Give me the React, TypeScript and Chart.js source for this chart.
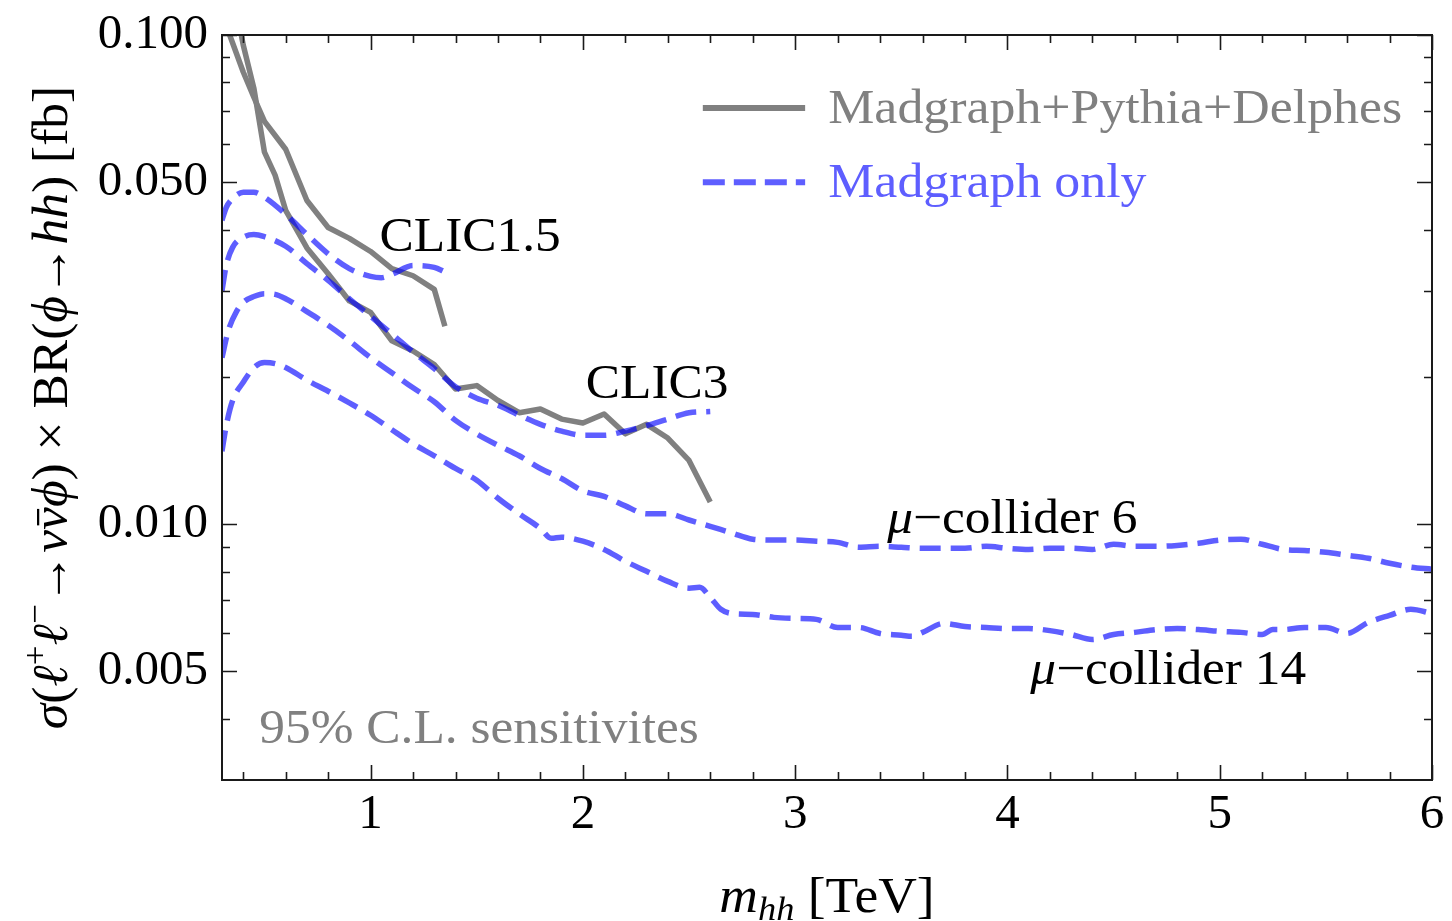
import React, { useEffect, useRef } from "react";
import { Chart, registerables } from "chart.js";

Chart.register(...registerables);

// ---- Sensitivity curves: m_hh [TeV] vs sigma x BR [fb] ----

// CLIC 1.5 TeV, Madgraph+Pythia+Delphes
const clic15FullMass = [0.3, 0.35, 0.4, 0.45, 0.5, 0.6, 0.7, 0.8, 0.9, 1.0, 1.1, 1.2, 1.3, 1.35];
const clic15FullSigma = [0.1104, 0.0963, 0.084, 0.0746, 0.0666, 0.0584, 0.0459, 0.0404, 0.0384, 0.0361, 0.0333, 0.0322, 0.0302, 0.0254];

// CLIC 3 TeV, Madgraph+Pythia+Delphes
const clic3FullMass = [0.35, 0.4, 0.45, 0.5, 0.55, 0.6, 0.7, 0.8, 0.9, 1.0, 1.1, 1.2, 1.3, 1.4, 1.5, 1.6, 1.7, 1.8, 1.9, 2.0, 2.1, 2.2, 2.3, 2.4, 2.5, 2.6];
const clic3FullSigma = [0.1236, 0.0954, 0.0779, 0.0576, 0.0517, 0.0438, 0.0367, 0.0325, 0.0286, 0.0271, 0.0237, 0.0226, 0.0212, 0.0189, 0.0192, 0.0179, 0.0169, 0.0172, 0.0164, 0.0161, 0.0168, 0.0153, 0.016, 0.015, 0.0135, 0.0111];

// CLIC 1.5 TeV, Madgraph only
const clic15MgMass = [0.3, 0.32, 0.35, 0.4, 0.45, 0.5, 0.6, 0.7, 0.8, 0.9, 1.0, 1.05, 1.1, 1.2, 1.3, 1.35];
const clic15MgSigma = [0.0418, 0.0444, 0.0463, 0.0477, 0.0477, 0.0466, 0.043, 0.0391, 0.0357, 0.0333, 0.0321, 0.0319, 0.0324, 0.0338, 0.0335, 0.0328];

// CLIC 3 TeV, Madgraph only
const clic3MgMass = [0.3, 0.32, 0.35, 0.4, 0.45, 0.5, 0.6, 0.7, 0.8, 0.9, 1.0, 1.1, 1.2, 1.3, 1.4, 1.5, 1.6, 1.7, 1.8, 1.9, 2.0, 2.1, 2.2, 2.3, 2.4, 2.5, 2.6];
const clic3MgSigma = [0.03, 0.0338, 0.0368, 0.0386, 0.0391, 0.0387, 0.037, 0.0341, 0.0315, 0.0289, 0.0266, 0.0245, 0.0225, 0.0208, 0.0191, 0.0181, 0.0175, 0.0167, 0.016, 0.0155, 0.0152, 0.0152, 0.0155, 0.0159, 0.0164, 0.0169, 0.017];

// Muon collider 6 TeV, Madgraph only
const mu6Mass = [0.3, 0.33, 0.37, 0.4, 0.45, 0.5, 0.55, 0.6, 0.7, 0.8, 0.9, 1.0, 1.1, 1.2, 1.3, 1.4, 1.5, 1.6, 1.7, 1.8, 1.9, 2.0, 2.1, 2.2, 2.3, 2.4, 2.5, 2.6, 2.7, 2.8, 2.9, 3.0, 3.1, 3.2, 3.3, 3.4, 3.5, 3.6, 3.7, 3.8, 3.9, 4.0, 4.1, 4.2, 4.3, 4.4, 4.5, 4.6, 4.7, 4.8, 4.9, 5.0, 5.1, 5.2, 5.3, 5.4, 5.5, 5.6, 5.7, 5.8, 5.9, 6.0];
const mu6Sigma = [0.0219, 0.0249, 0.0273, 0.0284, 0.0292, 0.0296, 0.0295, 0.0289, 0.0272, 0.0255, 0.0237, 0.0219, 0.0204, 0.019, 0.0178, 0.0163, 0.0153, 0.0145, 0.0138, 0.013, 0.0124, 0.0117, 0.0114, 0.0109, 0.0105, 0.0105, 0.0102, 0.0099, 0.0096, 0.00932, 0.00928, 0.00928, 0.00923, 0.00918, 0.00897, 0.00901, 0.00897, 0.00893, 0.00893, 0.00893, 0.00901, 0.00893, 0.00888, 0.00893, 0.00893, 0.00888, 0.0091, 0.00901, 0.00901, 0.00905, 0.00914, 0.00928, 0.00932, 0.0091, 0.00888, 0.00884, 0.00876, 0.00864, 0.00852, 0.00832, 0.00817, 0.00809];

// Muon collider 14 TeV, Madgraph only
const mu14Mass = [0.3, 0.32, 0.35, 0.4, 0.45, 0.5, 0.55, 0.6, 0.7, 0.8, 0.9, 1.0, 1.1, 1.2, 1.3, 1.4, 1.5, 1.6, 1.7, 1.8, 1.85, 1.9, 2.0, 2.1, 2.2, 2.3, 2.4, 2.5, 2.55, 2.6, 2.65, 2.7, 2.8, 2.9, 3.0, 3.1, 3.2, 3.3, 3.4, 3.5, 3.55, 3.6, 3.7, 3.8, 3.9, 4.0, 4.1, 4.2, 4.3, 4.4, 4.5, 4.6, 4.7, 4.8, 4.9, 5.0, 5.1, 5.2, 5.25, 5.3, 5.4, 5.5, 5.6, 5.7, 5.8, 5.9, 6.0];
const mu14Sigma = [0.0141, 0.0159, 0.0179, 0.0195, 0.0209, 0.0214, 0.0213, 0.0209, 0.0197, 0.0187, 0.0177, 0.0167, 0.0156, 0.0146, 0.0138, 0.013, 0.0123, 0.0113, 0.0105, 0.0098, 0.00936, 0.00941, 0.00923, 0.00888, 0.0084, 0.00801, 0.00764, 0.0074, 0.00743, 0.00709, 0.0067, 0.00657, 0.00654, 0.00645, 0.00642, 0.00639, 0.00615, 0.00615, 0.00598, 0.00593, 0.0059, 0.00601, 0.00627, 0.00618, 0.00615, 0.00612, 0.00612, 0.00606, 0.00595, 0.00581, 0.00595, 0.00601, 0.00609, 0.00612, 0.00609, 0.00604, 0.00601, 0.00595, 0.00609, 0.00609, 0.00615, 0.00615, 0.00598, 0.0063, 0.00651, 0.0067, 0.00657];

// Axis ticks
const xTickLabels = [1, 2, 3, 4, 5, 6];
const xMinorTicks = [0.4, 0.6, 0.8, 1.2, 1.4, 1.6, 1.8, 2.2, 2.4, 2.6, 2.8, 3.2, 3.4, 3.6, 3.8, 4.2, 4.4, 4.6, 4.8, 5.2, 5.4, 5.6, 5.8];
const yTickLabels = [0.005, 0.01, 0.05, 0.1];
const yMinorTicks = [0.004, 0.006, 0.007, 0.008, 0.009, 0.02, 0.03, 0.04, 0.06, 0.07, 0.08, 0.09];

// ---- Styling ----
const SERIF = '"Liberation Serif", "Times New Roman", "DejaVu Serif", serif';
const GREY = "#808080";
const BLUE = "rgba(0, 0, 255, 0.63)";
const BLUE_TEXT = "#5e5eff";
const FRAME = "#1a1a1a";
const DASH = [21, 10];
const TEXT_SIZE = 48;
const TEXT_STRETCH = 1.07;

type Piece = { text: string; italic?: boolean; shift?: "sup" | "sub"; bar?: boolean };

function pieceFont(p: Piece, size: number) {
  const s = p.shift ? Math.round(size * 0.68) : size;
  return `${p.italic ? "italic " : ""}${s}px ${SERIF}`;
}

function richWidth(ctx: CanvasRenderingContext2D, pieces: Piece[], size: number, stretch = 1) {
  let w = 0;
  for (const p of pieces) {
    ctx.font = pieceFont(p, size);
    w += ctx.measureText(p.text).width;
  }
  return w * stretch;
}

// Draws a run of mixed upright/italic/sub/superscript pieces with its left end at (x, y) on the baseline.
function drawRich(ctx: CanvasRenderingContext2D, pieces: Piece[], size: number, x: number, y: number, stretch = 1) {
  ctx.save();
  ctx.translate(x, y);
  ctx.scale(stretch, 1);
  ctx.textAlign = "left";
  ctx.textBaseline = "alphabetic";
  let cx = 0;
  for (const p of pieces) {
    ctx.font = pieceFont(p, size);
    const dy = p.shift === "sup" ? -0.42 * size : p.shift === "sub" ? 0.16 * size : 0;
    ctx.fillText(p.text, cx, dy);
    const w = ctx.measureText(p.text).width;
    if (p.bar) ctx.fillRect(cx + w * 0.2, -size * 0.6, w * 0.72, Math.max(2, size * 0.045));
    cx += w;
  }
  ctx.restore();
}

const yTitle: Piece[] = [
  { text: "σ", italic: true },
  { text: "(" },
  { text: "ℓ", italic: true },
  { text: "+", shift: "sup" },
  { text: "ℓ", italic: true },
  { text: "−", shift: "sup" },
  { text: "→" },
  { text: "ν", italic: true },
  { text: "ν", italic: true, bar: true },
  { text: "ϕ", italic: true },
  { text: ") × BR(" },
  { text: "ϕ", italic: true },
  { text: "→" },
  { text: "hh", italic: true },
  { text: ") [fb]" },
];

const xTitle: Piece[] = [
  { text: "m", italic: true },
  { text: "hh", italic: true, shift: "sub" },
  { text: " [TeV]" },
];

// Curve labels, anchored in data coordinates (left edge, baseline)
const curveLabels: { pieces: Piece[]; mass: number; sigma: number; color: string }[] = [
  { pieces: [{ text: "CLIC1.5" }], mass: 1.042, sigma: 0.0362, color: "#000" },
  { pieces: [{ text: "CLIC3" }], mass: 2.014, sigma: 0.0181, color: "#000" },
  { pieces: [{ text: "μ", italic: true }, { text: "−collider 6" }], mass: 3.434, sigma: 0.00958, color: "#000" },
  { pieces: [{ text: "μ", italic: true }, { text: "−collider 14" }], mass: 4.108, sigma: 0.00472, color: "#000" },
  { pieces: [{ text: "95% C.L. sensitivites" }], mass: 0.476, sigma: 0.00357, color: GREY },
];

// Legend, anchored in data coordinates
const legendRows = [
  { label: "Madgraph+Pythia+Delphes", sigma: 0.0709, color: GREY, text: GREY, dashed: false },
  { label: "Madgraph only", sigma: 0.05, color: BLUE, text: BLUE_TEXT, dashed: true },
];
const legendLineFrom = 2.565;
const legendLineTo = 3.047;
const legendTextAt = 3.156;

const toPoints = (xs: number[], ys: number[]) => xs.map((x, i) => ({ x, y: ys[i] }));

const overlayPlugin = {
  id: "overlay",
  afterDatasetsDraw(chart: any) {
    const { ctx, chartArea: a, scales } = chart;
    const xs = scales.x;
    const ys = scales.y;
    ctx.save();
    ctx.strokeStyle = FRAME;
    ctx.lineWidth = 1.6;
    ctx.beginPath();
    const xTick = (v: number, len: number) => {
      const px = Math.round(xs.getPixelForValue(v)) + 0.5;
      ctx.moveTo(px, a.bottom);
      ctx.lineTo(px, a.bottom - len);
      ctx.moveTo(px, a.top);
      ctx.lineTo(px, a.top + len);
    };
    const yTick = (v: number, len: number) => {
      const py = Math.round(ys.getPixelForValue(v)) + 0.5;
      ctx.moveTo(a.left, py);
      ctx.lineTo(a.left + len, py);
      ctx.moveTo(a.right, py);
      ctx.lineTo(a.right - len, py);
    };
    xMinorTicks.forEach((v) => xTick(v, 8));
    xTickLabels.forEach((v) => xTick(v, 15));
    yMinorTicks.forEach((v) => yTick(v, 8));
    yTickLabels.forEach((v) => yTick(v, 15));
    ctx.stroke();
    ctx.lineWidth = 2;
    ctx.strokeRect(a.left, a.top, a.right - a.left, a.bottom - a.top);
    ctx.restore();
  },
  afterDraw(chart: any) {
    const { ctx, chartArea: a, scales } = chart;
    const xs = scales.x;
    const ys = scales.y;
    ctx.save();

    // legend
    legendRows.forEach((row) => {
      const y = ys.getPixelForValue(row.sigma);
      ctx.strokeStyle = row.color;
      ctx.lineWidth = 6;
      ctx.lineCap = "butt";
      ctx.setLineDash(row.dashed ? [22, 9] : []);
      ctx.beginPath();
      ctx.moveTo(xs.getPixelForValue(legendLineFrom), y);
      ctx.lineTo(xs.getPixelForValue(legendLineTo), y);
      ctx.stroke();
      ctx.setLineDash([]);
      ctx.fillStyle = row.text;
      drawRich(ctx, [{ text: row.label }], TEXT_SIZE, xs.getPixelForValue(legendTextAt), y + 15, 1.08);
    });

    // curve labels
    curveLabels.forEach((lab) => {
      ctx.fillStyle = lab.color;
      drawRich(ctx, lab.pieces, TEXT_SIZE, xs.getPixelForValue(lab.mass), ys.getPixelForValue(lab.sigma), TEXT_STRETCH);
    });

    // x-axis title
    ctx.fillStyle = "#000";
    const xw = richWidth(ctx, xTitle, 50, TEXT_STRETCH);
    drawRich(ctx, xTitle, 50, (a.left + a.right) / 2 - xw / 2, a.bottom + 132, TEXT_STRETCH);

    // y-axis title, rotated
    const yw = richWidth(ctx, yTitle, 50, 1.03);
    ctx.translate(a.left - 155, (a.top + a.bottom) / 2);
    ctx.rotate(-Math.PI / 2);
    drawRich(ctx, yTitle, 50, -yw / 2, 0, 1.03);
    ctx.restore();
  },
};

export default function App() {
  const canvasRef = useRef<HTMLCanvasElement>(null);

  useEffect(() => {
    const canvas = canvasRef.current;
    if (!canvas) return;
    const blue = (data: { x: number; y: number }[]) => ({
      data,
      borderColor: BLUE,
      borderWidth: 5.5,
      borderDash: DASH,
      borderCapStyle: "butt" as const,
      pointRadius: 0,
      tension: 0,
      cubicInterpolationMode: "monotone" as const,
      fill: false,
    });
    const grey = (data: { x: number; y: number }[]) => ({
      data,
      borderColor: GREY,
      borderWidth: 5.5,
      borderJoinStyle: "round" as const,
      pointRadius: 0,
      tension: 0,
      fill: false,
    });

    const chart = new Chart(canvas, {
      type: "line",
      data: {
        datasets: [
          blue(toPoints(clic15MgMass, clic15MgSigma)),
          blue(toPoints(clic3MgMass, clic3MgSigma)),
          blue(toPoints(mu6Mass, mu6Sigma)),
          blue(toPoints(mu14Mass, mu14Sigma)),
          grey(toPoints(clic15FullMass, clic15FullSigma)),
          grey(toPoints(clic3FullMass, clic3FullSigma)),
        ],
      },
      options: {
        animation: false,
        responsive: false,
        maintainAspectRatio: false,
        devicePixelRatio: 1,
        layout: { padding: { left: 0, right: 20, top: 35, bottom: 0 } },
        plugins: { legend: { display: false }, tooltip: { enabled: false } },
        scales: {
          x: {
            type: "linear",
            min: 0.3,
            max: 6,
            grid: { display: false, drawTicks: false },
            border: { display: false },
            afterBuildTicks: (axis: any) => {
              axis.ticks = xTickLabels.map((v) => ({ value: v }));
            },
            afterFit: (axis: any) => {
              axis.height = 141;
              axis.paddingLeft = 0;
              axis.paddingRight = 0;
            },
            ticks: {
              autoSkip: false,
              maxRotation: 0,
              padding: 6,
              color: "#000",
              font: { family: SERIF, size: 49 },
              callback: (v: any) => String(v),
            },
          },
          y: {
            type: "logarithmic",
            min: 0.003,
            max: 0.1,
            grid: { display: false, drawTicks: false },
            border: { display: false },
            afterBuildTicks: (axis: any) => {
              axis.ticks = yTickLabels.map((v) => ({ value: v }));
            },
            afterFit: (axis: any) => {
              axis.width = 222;
              axis.paddingTop = 0;
              axis.paddingBottom = 0;
            },
            ticks: {
              autoSkip: false,
              padding: 14,
              color: "#000",
              font: { family: SERIF, size: 49 },
              callback: (v: any) => Number(v).toFixed(3),
            },
          },
        },
      },
      plugins: [overlayPlugin],
    });
    return () => chart.destroy();
  }, []);

  return (
    <div style={{ position: "fixed", left: 0, top: 0, width: 1452, height: 921, background: "#fff" }}>
      <canvas ref={canvasRef} width={1452} height={921} style={{ display: "block", width: 1452, height: 921 }} />
    </div>
  );
}
